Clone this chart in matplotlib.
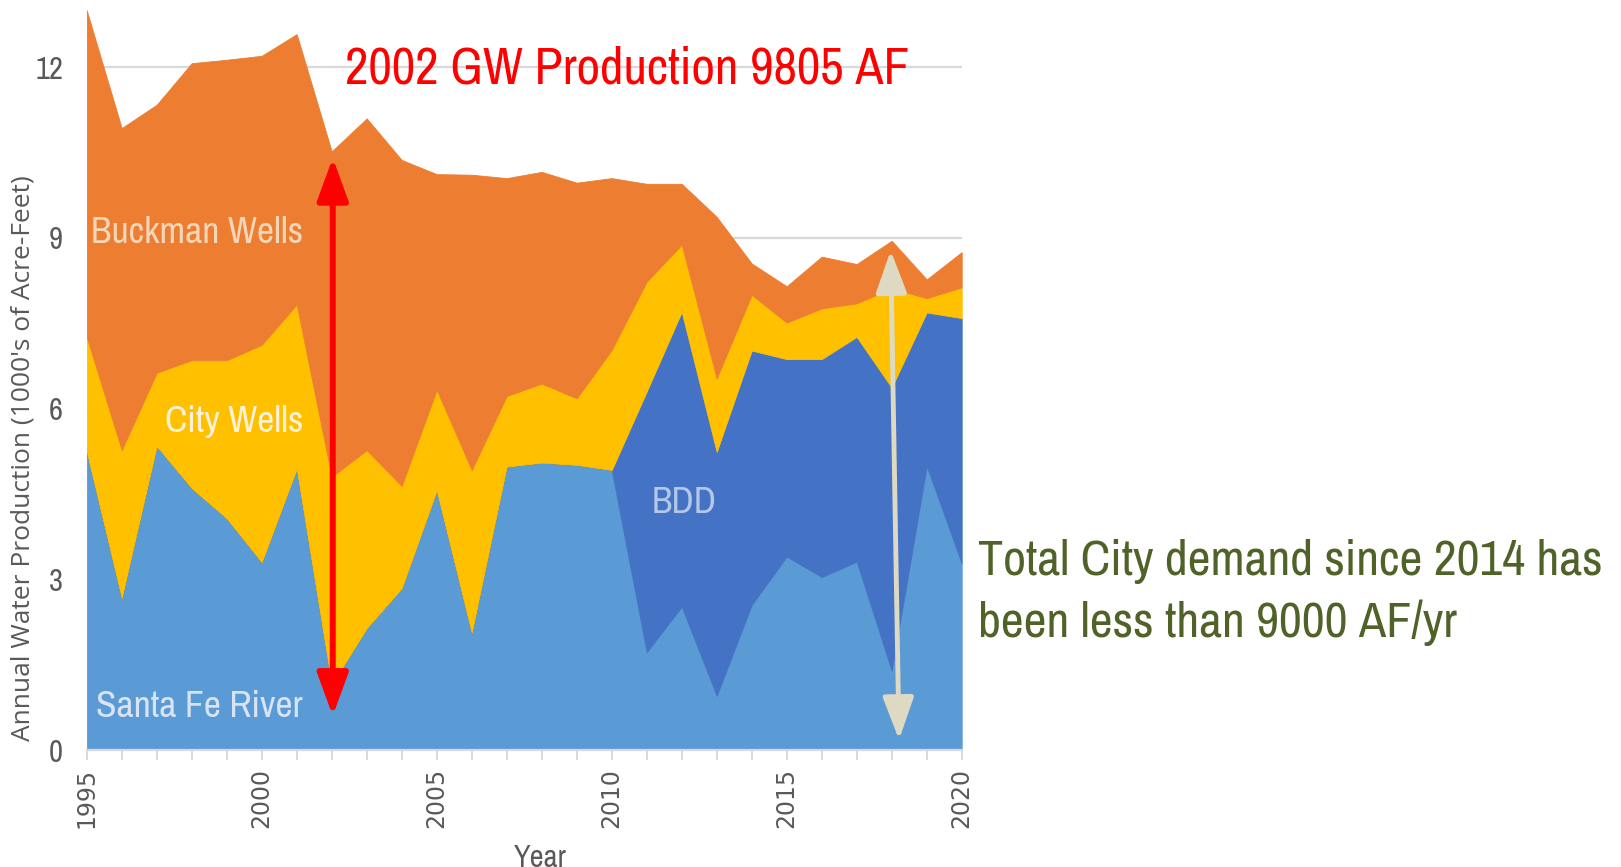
import matplotlib
matplotlib.use("Agg")
import matplotlib.pyplot as plt

# Annual water production by source, thousands of acre-feet
years = list(range(1995, 2021))
santa_fe_river = [5.24, 2.67, 5.34, 4.60, 4.07, 3.30, 4.94, 1.15, 2.14, 2.84, 4.56, 2.06, 4.98,
                  5.05, 5.01, 4.92, 1.72, 2.52, 0.95, 2.55, 3.40, 3.04, 3.31, 1.39, 4.99, 3.28]
bdd = [0, 0, 0, 0, 0, 0, 0, 0, 0, 0, 0, 0, 0,
       0, 0, 0, 4.58, 5.18, 4.29, 4.47, 3.47, 3.83, 3.95, 4.98, 2.70, 4.31]
city_wells = [2.02, 2.60, 1.29, 2.25, 2.78, 3.82, 2.89, 3.65, 3.13, 1.80, 1.77, 2.86, 1.24,
              1.39, 1.17, 2.11, 1.93, 1.18, 1.29, 0.98, 0.64, 0.89, 0.59, 1.74, 0.25, 0.54]
buckman_wells = [5.74, 5.66, 4.71, 5.22, 5.28, 5.08, 4.75, 5.72, 5.83, 5.73, 3.79, 5.19, 3.83,
                 3.72, 3.79, 3.02, 1.72, 1.07, 2.84, 0.55, 0.64, 0.91, 0.69, 0.84, 0.33, 0.62]

series_names = ["Santa Fe River", "BDD", "City Wells", "Buckman Wells"]
series_colors = ["#5B9BD5", "#4472C4", "#FFC000", "#ED7D31"]

gw_2002 = 9.805        # 2002 groundwater production, thousands of AF
demand_span = 8.6      # length of the post-2014 demand arrow

narrow = "Archivo Narrow"
grey = "#595959"

fig = plt.figure(figsize=(16.21, 8.67), dpi=100)
ax = fig.add_axes([86.7 / 1621, 1 - 750 / 867, 875 / 1621, 750 / 867])

polys = ax.stackplot(years, santa_fe_river, bdd, city_wells, buckman_wells,
                     colors=series_colors, labels=series_names, zorder=2)
for p, c in zip(polys, series_colors):
    p.set_edgecolor(c)
    p.set_linewidth(0.6)

ax.set_xlim(1995, 2020)
ax.set_ylim(0, 13.18)
ax.set_yticks([0, 3, 6, 9, 12])
ax.set_xticks(range(1995, 2021, 5))
ax.set_xticks(years, minor=True)
ax.grid(axis="y", color="#D9D9D9", linewidth=1.6, zorder=0)
ax.set_axisbelow(True)

for s in ["top", "right", "left"]:
    ax.spines[s].set_visible(False)
ax.spines["bottom"].set_color("#D9D9D9")
ax.spines["bottom"].set_linewidth(1.6)
ax.spines["bottom"].set_zorder(3)

ax.tick_params(axis="y", length=0, pad=17, labelsize=22, labelcolor=grey)
for lab in ax.get_yticklabels():
    lab.set_family(narrow)
ax.tick_params(axis="x", which="both", length=7, width=1.4, color="#D9D9D9",
               labelsize=17, labelcolor=grey, labelrotation=90, pad=6)

ax.set_ylabel("Annual Water Production (1000's of Acre-Feet)", fontsize=19,
              family="Open Sans", color=grey)
ax.yaxis.set_label_coords(-0.058, 0.389)
ax.set_xlabel("Year", fontsize=22, color=grey, family=narrow)
ax.xaxis.set_label_coords((540 - 86.7) / 875, -0.125)

# area labels
ax.text(2001.18, 8.91, "Buckman Wells", fontsize=27, family=narrow, color="#F3D6B8",
        ha="right", va="baseline", zorder=4)
ax.text(2001.18, 5.59, "City Wells", fontsize=27, family=narrow, color="#FDF1D8",
        ha="right", va="baseline", zorder=4)
ax.text(2001.18, 0.585, "Santa Fe River", fontsize=27, family=narrow, color="#DAE3F3",
        ha="right", va="baseline", zorder=4)
ax.text(2011.14, 4.17, "BDD", fontsize=27, family=narrow, color="#B4C7E7",
        ha="left", va="baseline", zorder=4)

head = "<|-|>,head_length=2.6,head_width=0.95"

# 2002 groundwater production arrow
ax.annotate("", xy=(2002.03, 0.6 + gw_2002), xytext=(2002.03, 0.6),
            arrowprops=dict(arrowstyle=head, mutation_scale=10, color="#FF0000",
                            lw=4.3, shrinkA=0, shrinkB=0), zorder=5)
ax.text(2002.38, 11.71, "2002 GW Production 9805 AF", fontsize=37, family=narrow,
        color="#FF0000", ha="left", va="baseline", zorder=5, clip_on=False)

# post-2014 demand arrow
ax.annotate("", xy=(2017.97, 0.18 + demand_span), xytext=(2018.21, 0.18),
            arrowprops=dict(arrowstyle=head, mutation_scale=10, color="#DDD9C3",
                            lw=3.5, shrinkA=0, shrinkB=0), zorder=5)

fig.text(978 / 1621, 1 - 575 / 867, "Total City demand since 2014 has",
         fontsize=36, family=narrow, color="#4F6228", ha="left", va="baseline")
fig.text(978 / 1621, 1 - 637 / 867, "been less than 9000 AF/yr",
         fontsize=36, family=narrow, color="#4F6228", ha="left", va="baseline")

fig.savefig("out.png", dpi=100)
